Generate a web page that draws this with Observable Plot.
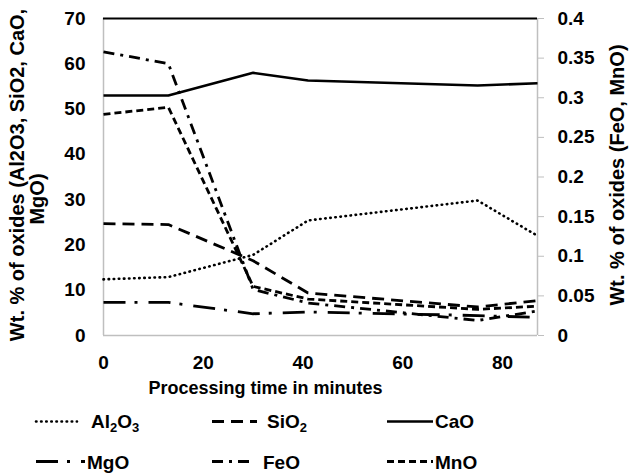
<!DOCTYPE html>
<html>
<head>
<meta charset="utf-8">
<script src="https://cdn.jsdelivr.net/npm/d3@7"></script>
<script src="https://cdn.jsdelivr.net/npm/@observablehq/plot@0.6"></script>
<style>
  html, body { margin: 0; padding: 0; background: #fff; }
  #wrap { width: 629px; }
  #wrap svg { display: block; }
</style>
</head>
<body>
<div id="wrap"></div>
<script>
// ---- data ----
const times = [0, 13, 30, 41, 75, 87];
const al2o3 = [12.4, 12.9, 17.8, 25.4, 29.8, 22.0];
const sio2  = [24.7, 24.5, 16.5, 9.4, 6.3, 7.7];
const cao   = [53.0, 53.0, 58.0, 56.3, 55.2, 55.7];
const mgo   = [7.3, 7.3, 4.8, 5.2, 4.4, 4.0];
const feo   = [0.358, 0.343, 0.058, 0.041, 0.019, 0.031];   // right axis
const mno   = [0.279, 0.288, 0.062, 0.046, 0.033, 0.037];   // right axis

const xTicks = [0, 20, 40, 60, 80];
const leftTicks = [0, 10, 20, 30, 40, 50, 60, 70];
const rightTicks = [0, 0.05, 0.1, 0.15, 0.2, 0.25, 0.3, 0.35, 0.4];

const xTitle = "Processing time in minutes";
const yTitleLine1 = "Wt. % of oxides (Al2O3, SiO2, CaO,";
const yTitleLine2 = "MgO)";
const y2Title = "Wt. % of oxides (FeO, MnO)";

// ---- build ----
const K = 70 / 0.4; // right-axis value -> left-axis scale
const rows = (vals, k = 1) => times.map((t, i) => ({t, v: vals[i] * k}));

const series = [
  {name: "Al2O3", data: rows(al2o3), dash: "0.5 4.6", cap: "round", w: 2.6},
  {name: "SiO2", data: rows(sio2), dash: "12 7", cap: "butt", w: 2.8},
  {name: "CaO", data: rows(cao), dash: null, cap: "butt", w: 2.6},
  {name: "MgO", data: rows(mgo), dash: "22 9 3 11", cap: "butt", w: 2.8},
  {name: "FeO", data: rows(feo, K), dash: "11 6 3 6", cap: "butt", w: 2.8},
  {name: "MnO", data: rows(mno, K), dash: "7 4", cap: "butt", w: 2.8}
];

const font = "'Liberation Sans', Arial, Helvetica, sans-serif";
const gray = "#bfbfbf";

const chart = Plot.plot({
  width: 629,
  height: 400,
  marginLeft: 103,
  marginRight: 92,
  marginTop: 18,
  marginBottom: 65,
  x: {domain: [0, 87]},
  y: {domain: [0, 70]},
  style: {fontFamily: font, fontSize: "19px", fontWeight: "bold", color: "#000", background: "#fff", overflow: "visible"},
  marks: [
    Plot.ruleY([0], {stroke: gray, strokeWidth: 1.5}),
    Plot.ruleX([0], {stroke: gray, strokeWidth: 1.5}),
    Plot.ruleX([87], {stroke: gray, strokeWidth: 1.5}),
    Plot.axisX({ticks: xTicks, tickSize: 0, tickPadding: 20, label: null, fontSize: 19}),
    Plot.axisY({ticks: leftTicks, tickSize: 0, tickPadding: 18, label: null, fontSize: 19}),
    Plot.axisY({anchor: "right", ticks: rightTicks.map(v => v * K), tickSize: 6, stroke: gray, text: null, label: null}),
    Plot.axisY({anchor: "right", ticks: rightTicks.map(v => v * K), tickSize: 0, tickPadding: 20,
      tickFormat: d => String(+(d / K).toFixed(2)), label: null, fontSize: 19}),
    ...series.map(s => Plot.line(s.data, {
      x: "t", y: "v", stroke: "#000", strokeWidth: s.w,
      strokeDasharray: s.dash, strokeLinecap: s.cap, strokeLinejoin: "round"
    })),
    Plot.ruleY([70], {stroke: "#000", strokeWidth: 2}),
    Plot.text([xTitle], {text: d => d, frameAnchor: "bottom", dx: -55, dy: 53, fontSize: 18, fontWeight: "bold", textAnchor: "middle", lineAnchor: "middle"}),
    Plot.text([yTitleLine1], {text: d => d, frameAnchor: "left", rotate: -90, dx: -86, dy: -2, fontSize: 20, fontWeight: "bold", textAnchor: "middle", lineAnchor: "middle"}),
    Plot.text([yTitleLine2], {text: d => d, frameAnchor: "left", rotate: -90, dx: -66, dy: 22, fontSize: 20, fontWeight: "bold", textAnchor: "middle", lineAnchor: "middle"}),
    Plot.text([y2Title], {text: d => d, frameAnchor: "right", rotate: -90, dx: 80, dy: -2, fontSize: 20, fontWeight: "bold", textAnchor: "middle", lineAnchor: "middle"})
  ]
});

const wrap = document.getElementById("wrap");
wrap.appendChild(chart);

// ---- legend (below the chart) ----
const legendItems = [
  {s: 0, x1: 36, x2: 77, tx: 91, row: 0, label: ["Al", "2", "O", "3"]},
  {s: 1, x1: 212, x2: 257, tx: 267, row: 0, label: ["SiO", "2"]},
  {s: 2, x1: 387, x2: 433, tx: 435, row: 0, label: ["CaO"]},
  {s: 3, x1: 36, x2: 85, tx: 87, row: 1, label: ["MgO"]},
  {s: 4, x1: 212, x2: 250, tx: 263, row: 1, label: ["FeO"]},
  {s: 5, x1: 387, x2: 433, tx: 435, row: 1, label: ["MnO"]}
];
const NS = "http://www.w3.org/2000/svg";
const leg = document.createElementNS(NS, "svg");
leg.setAttribute("width", 629);
leg.setAttribute("height", 75);
leg.setAttribute("font-family", font);
leg.setAttribute("font-size", 19);
leg.setAttribute("font-weight", "bold");
const rowLineY = [21.5, 61.5];
const rowBase = [28, 69];
for (const it of legendItems) {
  const s = series[it.s];
  const ln = document.createElementNS(NS, "line");
  ln.setAttribute("x1", it.x1); ln.setAttribute("x2", it.x2);
  ln.setAttribute("y1", rowLineY[it.row]); ln.setAttribute("y2", rowLineY[it.row]);
  ln.setAttribute("stroke", "#000");
  ln.setAttribute("stroke-width", s.w);
  if (s.dash) ln.setAttribute("stroke-dasharray", s.dash);
  ln.setAttribute("stroke-linecap", s.cap);
  leg.appendChild(ln);
  const tx = document.createElementNS(NS, "text");
  tx.setAttribute("x", it.tx);
  tx.setAttribute("y", rowBase[it.row]);
  it.label.forEach((part, i) => {
    const sp = document.createElementNS(NS, "tspan");
    sp.textContent = part;
    if (i % 2 === 1) { sp.setAttribute("font-size", 13); sp.setAttribute("dy", 4); }
    else if (i > 0) { sp.setAttribute("dy", -4); }
    tx.appendChild(sp);
  });
  leg.appendChild(tx);
}
wrap.appendChild(leg);
</script>
</body>
</html>
